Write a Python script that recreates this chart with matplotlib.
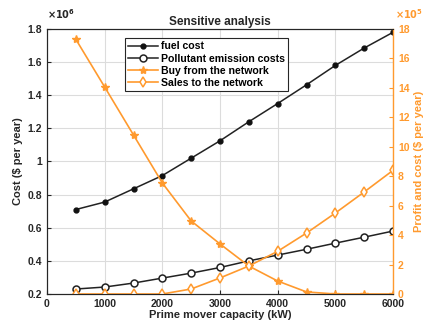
import matplotlib
matplotlib.use("Agg")
import matplotlib.pyplot as plt
from matplotlib.ticker import FuncFormatter

plt.rcParams['font.family'] = ['Liberation Sans', 'DejaVu Sans']
plt.rcParams['font.weight'] = 'bold'

capacity = [500, 1000, 1500, 2000, 2500, 3000, 3500, 4000, 4500, 5000, 5500, 6000]
fuel_cost = [0.71, 0.755, 0.835, 0.915, 1.02, 1.125, 1.24, 1.35, 1.463, 1.58, 1.685, 1.78]
pollutant_cost = [0.23, 0.242, 0.266, 0.296, 0.326, 0.36, 0.40, 0.435, 0.47, 0.507, 0.543, 0.58]
buy_network = [17.3, 14.06, 10.8, 7.54, 4.96, 3.4, 1.9, 0.88, 0.14, 0.0, 0.0, 0.0]
sell_network = [0.0, 0.0, 0.0, 0.0, 0.34, 1.09, 1.9, 2.9, 4.14, 5.5, 6.93, 8.4]

orange = '#FF9A2E'
grid_c = '#DCDCDC'

fig = plt.figure(figsize=(4.28, 3.29), dpi=100)
ax = fig.add_axes([0.1098, 0.1064, 0.8085, 0.8055])
ax2 = ax.twinx()

l1, = ax.plot(capacity, fuel_cost, '-o', color='#222222', lw=1.1, ms=3.5,
              markerfacecolor='#111111', markeredgecolor='#111111', label='fuel cost')
l2, = ax.plot(capacity, pollutant_cost, '-o', color='#222222', lw=1.1, ms=5,
              markerfacecolor='white', markeredgecolor='#222222', mew=1.1,
              label='Pollutant emission costs')
l3, = ax2.plot(capacity, buy_network, '-*', color=orange, lw=1.2, ms=6,
               label='Buy from the network')
l4, = ax2.plot(capacity, sell_network, '-d', color=orange, lw=1.2, ms=5,
               markerfacecolor='white', markeredgecolor=orange, mew=1.1,
               label='Sales to the network')

ax.set_xlim(0, 6000)
ax.set_ylim(0.2, 1.8)
ax2.set_ylim(0, 18)
ax.set_xticks(range(0, 6001, 1000))
ax.set_yticks([0.2, 0.4, 0.6, 0.8, 1.0, 1.2, 1.4, 1.6, 1.8])
ax.yaxis.set_major_formatter(FuncFormatter(lambda v, p: f'{v:g}'))
ax2.set_yticks(range(0, 19, 2))

ax.grid(True, color=grid_c, lw=0.8)
ax.set_axisbelow(True)

ax.tick_params(direction='in', labelsize=7.5, length=3, width=0.8, colors='#262626')
ax2.tick_params(direction='in', labelsize=7.5, length=3, width=0.8,
                colors=orange, labelcolor=orange)
for lab in ax.get_xticklabels() + ax.get_yticklabels() + ax2.get_yticklabels():
    lab.set_fontweight('bold')

for s in ['left', 'top', 'bottom']:
    ax.spines[s].set_color('#262626')
    ax2.spines[s].set_color('#262626')
ax2.spines['right'].set_color(orange)
ax2.spines['right'].set_linewidth(1.0)
ax.spines['right'].set_visible(False)

ax.set_xlabel('Prime mover capacity (kW)', fontsize=8, fontweight='bold', color='#262626', labelpad=1)
ax.set_ylabel('Cost ($ per year)', fontsize=8, fontweight='bold', color='#262626', labelpad=3)
ax2.set_ylabel('Profit and cost ($ per year)', fontsize=8, fontweight='bold', color=orange, labelpad=3)
ax.set_title('Sensitive analysis', fontsize=8.5, fontweight='bold', color='#262626', pad=3)

fig.text(0.1098, 0.935, r'$\times 10^{6}$', fontsize=7, color='#262626', ha='left', va='bottom')
fig.text(0.922, 0.935, r'$\times 10^{5}$', fontsize=7, color=orange, ha='left', va='bottom')

leg = ax.legend(handles=[l1, l2, l3, l4], loc='upper left',
                bbox_to_anchor=(0.21, 0.985), frameon=True,
                fancybox=False, edgecolor='#262626', framealpha=1,
                handlelength=2.8, borderpad=0.3, labelspacing=0.2, handletextpad=0.3,
                prop={'weight': 'bold', 'size': 7.6})
leg.get_frame().set_linewidth(0.8)

fig.savefig('out.png', dpi=100)
